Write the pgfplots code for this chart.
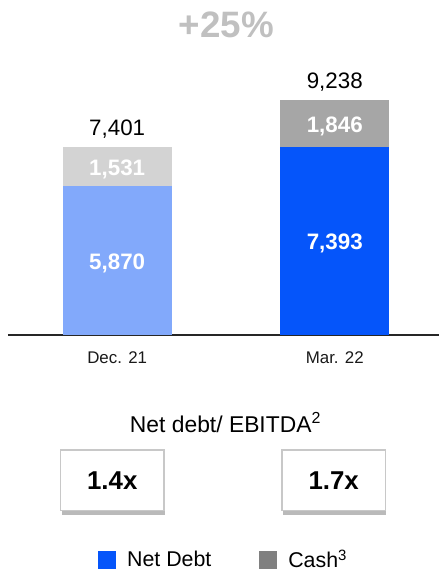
\documentclass[border=0pt]{standalone}
\usepackage{pgfplots}
\pgfplotsset{compat=1.18}
\usepackage{fontspec}
\setmainfont{Liberation Sans}
\usetikzlibrary{shadows}
\definecolor{netlight}{HTML}{82A9FB}
\definecolor{netdark}{HTML}{0555FA}
\definecolor{cashlight}{HTML}{D3D3D3}
\definecolor{cashdark}{HTML}{A6A6A6}
\definecolor{cashleg}{HTML}{808080}
\definecolor{pctgray}{HTML}{C0C0C0}
\definecolor{boxborder}{HTML}{C8C8C8}
\tikzset{inlbl/.style={anchor=center, font=\bfseries\fontsize{22.5}{24}\selectfont, color=white, inner sep=0pt, yshift=-3pt}}
\pgfplotsset{common/.style={
  at={(8pt,234pt)}, anchor=south west,
  scale only axis, width=434pt, height=255.5pt,
  xmin=-0.502, xmax=1.479, ymin=0, ymax=10000,
  clip=false}}
\begin{document}
\begin{tikzpicture}[x=1pt,y=1pt]
\path (0,0) rectangle (442,571);
\begin{axis}[
  common,
  ybar stacked, bar width=110pt,
  axis y line=none, axis x line*=bottom,
  x axis line style={line width=1.6pt, color=black!85},
  xtick={0,1}, xticklabels={Dec. 21, Mar. 22},
  major tick length=0pt,
  xticklabel style={font=\fontsize{17}{19}\selectfont, color=black!90, yshift=-14pt},
  point meta=explicit symbolic,
  nodes near coords,
  every node near coord/.style={inlbl},
  legend style={draw=none, fill=none, legend columns=2, at={(0.5,-0.885)}, anchor=center,
    inner sep=0pt, outer sep=0pt,
    font=\fontsize{21.5}{23}\selectfont,
    /tikz/every odd column/.append style={column sep=10pt},
    /tikz/every even column/.append style={column sep=46pt},
    legend cell align=left},
]
\addlegendimage{legend image code/.code={\fill[netdark] (0pt,-8.5pt) rectangle (17pt,8.5pt);}}
\addlegendimage{legend image code/.code={\fill[cashleg] (0pt,-8.5pt) rectangle (17pt,8.5pt);}}
\legend{Net Debt, Cash\textsuperscript{3}}
% Dec. 21 net debt
\addplot[fill=netlight, draw=none]
  coordinates {(0,5870) [5,870] (1,0) [{}]};
% Mar. 22 net debt
\addplot[fill=netdark, draw=none]
  coordinates {(0,0) [{}] (1,7393) [7,393]};
% Dec. 21 cash
\addplot[fill=cashlight, draw=none]
  coordinates {(0,1531) [1,531] (1,0) [{}]};
% Mar. 22 cash
\addplot[fill=cashdark, draw=none]
  coordinates {(0,0) [{}] (1,1846) [1,846]};
\end{axis}
% totals
\begin{axis}[common, hide axis, ybar, bar width=110pt, bar shift=0pt,
  nodes near coords, point meta=y,
  every node near coord/.style={anchor=center, inner sep=0pt, yshift=18pt, color=black,
    font=\fontsize{22.5}{24}\selectfont, /pgf/number format/1000 sep={,},
    /pgf/number format/assume math mode=true}]
\addplot[fill=none, draw=none] coordinates {(0,7401) (1,9238)};
\end{axis}
\node[font=\bfseries\fontsize{37}{40}\selectfont, color=pctgray] at (228,546) {+25\%};
\node[font=\fontsize{23}{25}\selectfont] at (227,146) {Net debt/ EBITDA\textsuperscript{2}};
\node[draw=boxborder, line width=1.5pt, fill=white, minimum width=104pt, minimum height=61pt, inner sep=0pt,
  drop shadow={shadow xshift=1pt, shadow yshift=-4pt, fill=black!45, opacity=0.6},
  font=\bfseries\fontsize{26}{28}\selectfont] at (113,87.5) {1.4x};
\node[draw=boxborder, line width=1.5pt, fill=white, minimum width=104pt, minimum height=61pt, inner sep=0pt,
  drop shadow={shadow xshift=1pt, shadow yshift=-4pt, fill=black!45, opacity=0.6},
  font=\bfseries\fontsize{26}{28}\selectfont] at (336,87.5) {1.7x};
\end{tikzpicture}
\end{document}
